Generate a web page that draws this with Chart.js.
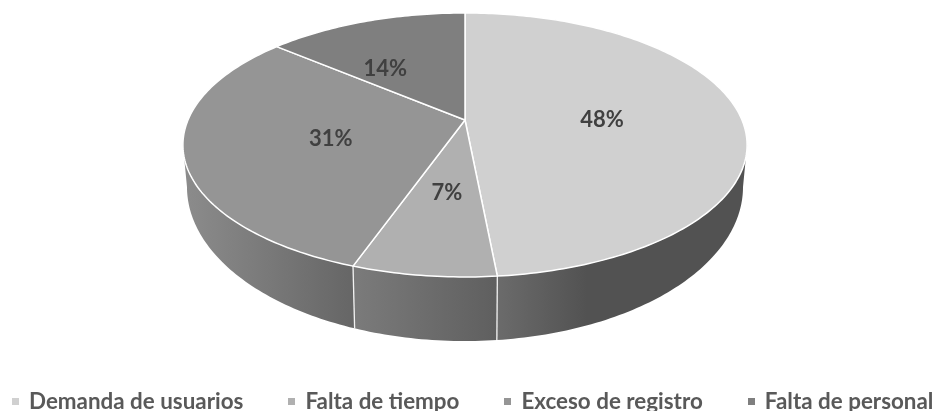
<!DOCTYPE html>
<html>
<head>
<meta charset="utf-8">
<script src="https://cdn.jsdelivr.net/npm/chart.js@4/dist/chart.umd.min.js"></script>
<style>
  html, body { margin: 0; background: #fff; overflow: hidden; }
  #wrap { position: relative; width: 934px; height: 411px; }
  #legend { position: absolute; left: 12px; top: 387px; display: flex; white-space: nowrap;
            font: bold 22.4px Lato, sans-serif; color: #595959; line-height: 28px; }
  #legend span { display: flex; align-items: center; margin-right: 45px; }
  #legend i { width: 7px; height: 7px; margin-right: 10px; }
</style>
</head>
<body>
<div id="wrap">
  <canvas id="pie" width="934" height="411"></canvas>
  <div id="legend"></div>
</div>
<script>
const categories = ["Demanda de usuarios", "Falta de tiempo", "Exceso de registro", "Falta de personal"];
const shares = [48.49, 6.9, 30.8, 13.81];

const topColors = ["#d0d0d0", "#b0b0b0", "#959595", "#7f7f7f"];
const wallStops = [
  [[0, "#6b6b6b"], [0.36, "#525252"], [1, "#525252"]],
  [[0, "#7b7b7b"], [1, "#5f5f5f"]],
  [[0, "#8c8c8c"], [1, "#666666"]],
  [[0, "#666666"], [1, "#666666"]]
];

// label spot as a fraction of the radius, plus a small nudge in pixels
const labelRadius = [0.49, 0.51, 0.49, 0.5];
const labelNudge = [[2, 3], [1, 2], [0, 2], [-26, 2]];

// the tilted disc: perspective k, top face and bottom rim
const k = 0.189;
const topFace = { a: 277, b: 127.3, dy: 0 };
const rim = { a: 273, b: 148.6, dy: 37.8 };
const frontLimit = Math.asin(k);

function project(el, face, angle, r) {
  const rr = r === undefined ? 1 : r;
  const d = 1 - k * rr * Math.sin(angle);
  return {
    x: el.x + face.a * rr * Math.cos(angle) / d,
    y: el.y + face.dy + face.b * rr * Math.sin(angle) / d
  };
}

function traceArc(ctx, el, face, from, to) {
  const steps = Math.max(2, Math.ceil(Math.abs(to - from) * 60));
  for (let i = 0; i <= steps; i++) {
    const p = project(el, face, from + (to - from) * i / steps);
    ctx.lineTo(p.x, p.y);
  }
}

const disc3d = {
  id: "disc3d",
  beforeDatasetDraw(chart, args) {
    const ctx = chart.ctx;
    const arcs = chart.getDatasetMeta(args.index).data;
    ctx.save();
    ctx.lineJoin = "round";

    // side walls, only the part facing us
    arcs.forEach((el, i) => {
      const from = Math.max(el.startAngle, frontLimit);
      const to = Math.min(el.endAngle, Math.PI - frontLimit);
      if (to <= from) return;
      const xa = project(el, topFace, to).x;
      const xb = project(el, topFace, from).x;
      const grad = ctx.createLinearGradient(xa, 0, xb, 0);
      wallStops[i].forEach(s => grad.addColorStop(s[0], s[1]));
      ctx.beginPath();
      traceArc(ctx, el, topFace, from, to);
      traceArc(ctx, el, rim, to, from);
      ctx.closePath();
      ctx.fillStyle = grad;
      ctx.fill();
    });

    // seams between the walls
    ctx.strokeStyle = "#f2f2f2";
    ctx.lineWidth = 1.3;
    arcs.forEach(el => {
      if (el.startAngle <= frontLimit || el.startAngle >= Math.PI - frontLimit) return;
      const a = project(el, topFace, el.startAngle);
      const b = project(el, rim, el.startAngle);
      ctx.beginPath();
      ctx.moveTo(a.x, a.y);
      ctx.lineTo(b.x, b.y);
      ctx.stroke();
    });

    // top face
    ctx.strokeStyle = "#ffffff";
    ctx.lineWidth = 1.5;
    arcs.forEach((el, i) => {
      ctx.beginPath();
      ctx.moveTo(el.x, el.y);
      traceArc(ctx, el, topFace, el.startAngle, el.endAngle);
      ctx.closePath();
      ctx.fillStyle = topColors[i];
      ctx.fill();
      ctx.stroke();
    });

    // percent labels
    ctx.font = "bold 22px Lato, sans-serif";
    ctx.fillStyle = "#404040";
    ctx.textAlign = "center";
    ctx.textBaseline = "middle";
    const total = shares.reduce((a, b) => a + b, 0);
    arcs.forEach((el, i) => {
      const mid = (el.startAngle + el.endAngle) / 2;
      const p = project(el, topFace, mid, labelRadius[i]);
      ctx.fillText(Math.round(shares[i] / total * 100) + "%", p.x + labelNudge[i][0], p.y + labelNudge[i][1]);
    });

    ctx.restore();
    return false;
  }
};

new Chart(document.getElementById("pie"), {
  type: "pie",
  data: {
    labels: categories,
    datasets: [{ data: shares, backgroundColor: topColors, borderWidth: 0 }]
  },
  options: {
    responsive: false,
    animation: false,
    layout: { padding: { left: 0, right: 4, top: 0, bottom: 171 } },
    plugins: { legend: { display: false }, tooltip: { enabled: false } }
  },
  plugins: [disc3d]
});

document.getElementById("legend").innerHTML =
  categories.map((c, i) => `<span><i style="background:${topColors[i]}"></i>${c}</span>`).join("");
</script>
</body>
</html>
